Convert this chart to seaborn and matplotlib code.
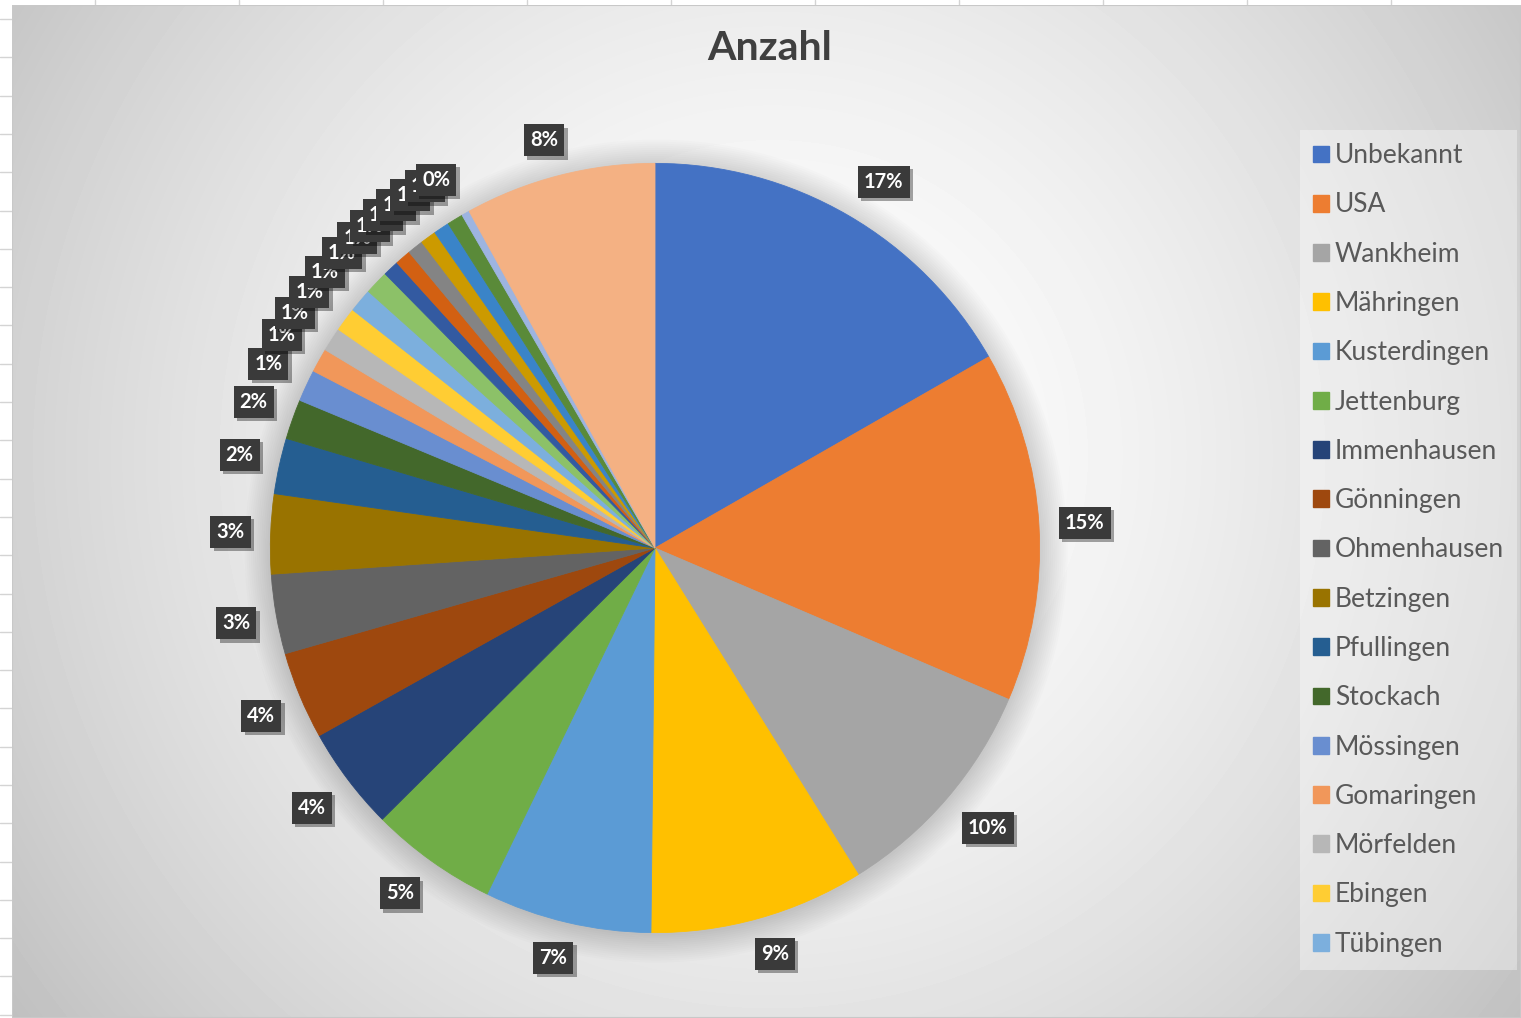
import numpy as np
import matplotlib.pyplot as plt
import matplotlib.patches as mpatches
import matplotlib.patheffects as pe
import seaborn as sns

sns.set_theme(style="white")
plt.rcParams['font.family'] = ['Lato', 'DejaVu Sans']

# Herkunft (Reihenfolge wie im Kreisdiagramm, im Uhrzeigersinn ab 12 Uhr)
orte = ['Unbekannt', 'USA', 'Wankheim', 'Mähringen', 'Kusterdingen', 'Jettenburg',
        'Immenhausen', 'Gönningen', 'Ohmenhausen', 'Betzingen', 'Pfullingen', 'Stockach',
        'Mössingen', 'Gomaringen', 'Mörfelden', 'Ebingen', 'Tübingen',
        'Ort 18', 'Ort 19', 'Ort 20', 'Ort 21', 'Ort 22', 'Ort 23', 'Ort 24', 'Ort 25',
        'Sonstige']
anzahl = [50, 44, 29, 27, 21, 16,
          13, 11, 10, 10, 7, 5,
          4, 3, 3, 3, 3,
          3, 2, 2, 2, 2, 2, 2, 1,
          24]
farben = ['#4472C4', '#ED7D31', '#A5A5A5', '#FFC000', '#5B9BD5', '#70AD47',
          '#264478', '#9E480E', '#636363', '#997300', '#255E91', '#43682B',
          '#698ED0', '#F1975A', '#B7B7B7', '#FFCD33', '#7CAFDD',
          '#8CC168', '#335AA1', '#D26012', '#848484', '#CC9A00', '#3A84C8', '#5A8A39', '#9DB4E0',
          '#F4B183']
legende_n = 17

W, H = 1521, 1018
fig = plt.figure(figsize=(W / 100, H / 100), dpi=100)
fig.patch.set_facecolor('white')

# Tabellenraster hinter dem Diagramm
grid = fig.add_axes([0, 0, 1, 1])
grid.set_xlim(0, W)
grid.set_ylim(H, 0)
grid.axis('off')
for x in np.arange(95, W, 144):
    grid.plot([x, x], [0, 5], color='#D4D4D4', lw=1)
for y in np.arange(19, H, 38.3):
    grid.plot([0, 12], [y, y], color='#D4D4D4', lw=1)

# Diagrammfläche mit radialem Verlauf
x0, y0 = 12, 5
bg = fig.add_axes([x0 / W, 0, (W - x0) / W, (H - y0) / H])
bg.axis('off')
yy, xx = np.mgrid[0:H - y0, 0:W - x0]
cx, cy = 760, 450
d = np.sqrt(((xx - cx) / 900) ** 2 + ((yy - cy) / 900) ** 2)
val = 1 - 0.23 * np.clip(d, 0, 1.2) ** 1.6
bg.imshow(val, cmap='gray', vmin=0, vmax=1, aspect='auto', interpolation='bilinear')
bg.add_patch(mpatches.Rectangle((0, 0), 1, 1, transform=bg.transAxes, fill=False,
                                ec='#C8C8C8', lw=1.5))

# Kreisdiagramm
cxp, cyp, S = 655, 548, 1000
ax = fig.add_axes([(cxp - S / 2) / W, (H - cyp - S / 2) / H, S / W, S / H])
px_per_unit = S / 2.6

# weicher Schatten
for r in np.linspace(1.07, 1.0, 14):
    ax.add_patch(mpatches.Circle((0.003, -0.008), r, color='black', alpha=0.013, lw=0))

wedges, _ = ax.pie(anzahl, colors=farben, startangle=90, counterclock=False, radius=1.0)
for w in wedges:
    w.set_edgecolor(w.get_facecolor())
    w.set_linewidth(0.6)
ax.set_xlim(-1.3, 1.3)
ax.set_ylim(-1.3, 1.3)
ax.set_aspect('equal')
ax.axis('off')

total = sum(anzahl)
labels = []
for w, v in zip(wedges, anzahl):
    theta = np.deg2rad((w.theta1 + w.theta2) / 2)
    pct = int(v / total * 100 + 0.5)
    t = ax.text(1.1 * np.cos(theta), 1.1 * np.sin(theta), f"{pct}%",
                ha='center', va='center', fontsize=14.5, fontweight='bold', color='white',
                bbox=dict(boxstyle='square,pad=0.3', fc='#3A3A3A', ec='none'))
    t.get_bbox_patch().set_path_effects([
        pe.SimplePatchShadow(offset=(2.5, -2.5), shadow_rgbFace='black', alpha=0.35),
        pe.Normal()])
    labels.append((t, theta))

# Beschriftung außerhalb: Ecke der Box zeigt auf einen Punkt knapp außerhalb des Randes
fig.canvas.draw()
renderer = fig.canvas.get_renderer()
gap = 20
for t, theta in labels:
    bb = t.get_bbox_patch().get_window_extent(renderer)
    a, b = bb.width / 2, bb.height / 2
    ux, uy = np.cos(theta), np.sin(theta)
    px = (1.0 + gap / px_per_unit) * ux + a * np.clip(2 * ux, -1, 1) / px_per_unit
    py = (1.0 + gap / px_per_unit) * uy + b * np.clip(2 * uy, -1, 1) / px_per_unit
    t.set_position((px, py))

fig.text(770 / W, 1 - 48 / H, 'Anzahl', ha='center', va='center',
         fontsize=29.5, fontweight='bold', color='#404040')

handles = [mpatches.Patch(color=c, label=n) for c, n in zip(farben[:legende_n], orte[:legende_n])]
leg = fig.legend(handles=handles, loc='upper left', bbox_to_anchor=(1300 / W, 1 - 130 / H),
                 frameon=True, fontsize=19, labelcolor='#595959',
                 handlelength=0.6, handleheight=0.6, handletextpad=0.22,
                 labelspacing=0.92, borderpad=0.5, borderaxespad=0)
frame = leg.get_frame()
frame.set_facecolor('white')
frame.set_alpha(0.35)
frame.set_edgecolor('none')
frame.set_boxstyle('square', pad=0)

fig.savefig('out.png', dpi=100)
plt.close(fig)
